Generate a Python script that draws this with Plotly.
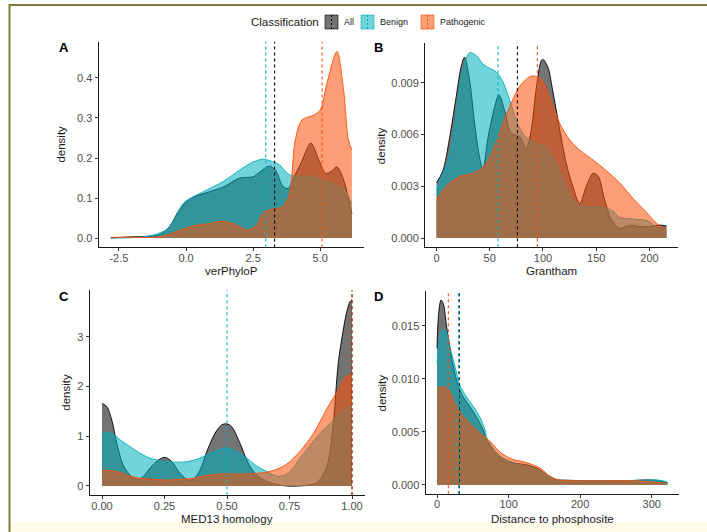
import plotly.graph_objects as go

W, H = 707, 532
FONT = "Liberation Sans, Arial, Helvetica, sans-serif"

CLASSES = ["All", "Benign", "Pathogenic"]
LINE_COLORS = {"All": "#000000", "Benign": "#00AFBB", "Pathogenic": "#FC4E07"}
FILL_COLORS = {"All": "rgba(0,0,0,0.55)", "Benign": "rgba(0,175,187,0.55)",
               "Pathogenic": "rgba(252,78,7,0.55)"}

# ---------------- Panel A : verPhyloP ----------------
a_all_x = [-2.8, -2.0, -1.5, -1.0, -0.6, -0.3, 0.0, 0.25, 0.75, 1.4, 2.0, 2.5, 2.75, 3.1, 3.35,
           3.6, 3.8, 4.0, 4.3, 4.65, 4.95, 5.2, 5.4, 5.62, 5.87, 6.05, 6.18]
a_all_y = [0.0, 0.003, 0.004, 0.008, 0.03, 0.065, 0.09, 0.102, 0.113, 0.128, 0.15, 0.153, 0.165,
           0.18, 0.168, 0.13, 0.124, 0.15, 0.19, 0.237, 0.195, 0.162, 0.166, 0.178, 0.145, 0.1, 0.06]
a_ben_x = [-2.8, -2.0, -1.5, -1.2, -0.9, -0.7, -0.45, -0.1, 0.27, 0.77, 1.38, 2.0, 2.5, 2.88,
           3.26, 3.5, 3.8, 4.0, 4.5, 5.0, 5.5, 5.9, 6.18]
a_ben_y = [0.0, 0.001, 0.004, 0.008, 0.015, 0.022, 0.045, 0.087, 0.103, 0.12, 0.141, 0.17, 0.19,
           0.197, 0.19, 0.182, 0.16, 0.155, 0.155, 0.148, 0.135, 0.12, 0.085]
a_pat_x = [-2.8, -2.0, -1.0, -0.5, 0.0, 0.4, 0.9, 1.3, 1.8, 2.3, 2.6, 2.9, 3.2, 3.6, 3.85, 4.07,
           4.32, 4.75, 5.0, 5.25, 5.62, 5.87, 6.05, 6.18]
a_pat_y = [0.002, 0.002, 0.003, 0.012, 0.025, 0.032, 0.036, 0.042, 0.035, 0.02, 0.03, 0.065, 0.072,
           0.078, 0.11, 0.245, 0.295, 0.307, 0.32, 0.387, 0.466, 0.37, 0.245, 0.22]
a_medians = {"All": 3.3, "Benign": 2.97, "Pathogenic": 5.07}

# ---------------- Panel B : Grantham ----------------
b_all_x = [0, 6, 12, 18.5, 23, 26.3, 31, 35.7, 40.4, 43.6, 48, 54.5, 58.6, 64, 70, 78, 84.3, 89,
           93.7, 98.4, 100, 104.7, 109, 115.7, 122, 128, 134.5, 140.7, 147, 151.7, 158, 164, 172,
           181.5, 191, 200, 209.7, 216]
b_all_y = [0.0032, 0.0039, 0.0057, 0.0082, 0.0099, 0.0105, 0.0092, 0.0067, 0.0047, 0.0040, 0.0057,
           0.0076, 0.0083, 0.0074, 0.0061, 0.0059, 0.0052, 0.0063, 0.0087, 0.0103, 0.01037, 0.0099,
           0.0086, 0.0063, 0.0043, 0.0030, 0.0020, 0.0030, 0.00375, 0.0036, 0.0022, 0.0011, 0.00056,
           0.00075, 0.00066, 0.00066, 0.00075, 0.0007]
b_ben_x = [0, 6, 12, 18.5, 24.8, 31, 37.3, 43.6, 49.8, 56, 62.4, 68.7, 75, 81, 87.5, 93.7, 103, 112,
           121, 130, 140, 155, 165, 172, 185, 198, 208, 216]
b_ben_y = [0.0028, 0.00375, 0.0047, 0.0072, 0.00975, 0.01075, 0.0106, 0.0101, 0.00985, 0.00965,
           0.00907, 0.0080, 0.00685, 0.00607, 0.00569, 0.0055, 0.0053, 0.0044, 0.0031, 0.0021,
           0.0018, 0.0018, 0.0016, 0.0012, 0.0011, 0.0010, 0.0006, 0.0005]
b_pat_x = [0, 9, 21.6, 34, 43.6, 53, 62.4, 70, 78, 87.5, 92, 98.4, 106, 115.7, 125, 134.5, 147,
           159.6, 172, 184.6, 197, 206.6, 216]
b_pat_y = [0.0022, 0.0030, 0.00356, 0.00375, 0.0041, 0.0051, 0.00665, 0.0078, 0.0088, 0.00936,
           0.0094, 0.0092, 0.0082, 0.00665, 0.0057, 0.0051, 0.00453, 0.0039, 0.0032, 0.0023,
           0.0015, 0.00085, 0.00046]
b_medians = {"All": 76, "Benign": 57.7, "Pathogenic": 94.7}

# ---------------- Panel C : MED13 homology ----------------
c_all_x = [0, 0.019, 0.039, 0.059, 0.085, 0.112, 0.139, 0.165, 0.192, 0.225, 0.252, 0.279, 0.312,
           0.345, 0.365, 0.392, 0.419, 0.452, 0.479, 0.499, 0.519, 0.552, 0.585, 0.619, 0.659,
           0.699, 0.739, 0.79, 0.83, 0.859, 0.899, 0.925, 0.945, 0.965, 0.979, 0.992, 1.0]
c_all_y = [1.66, 1.6, 1.33, 0.86, 0.42, 0.22, 0.13, 0.19, 0.36, 0.52, 0.577, 0.49, 0.255, 0.12,
           0.13, 0.32, 0.69, 1.06, 1.23, 1.25, 1.19, 0.86, 0.46, 0.22, 0.09, 0.03, 0.0, 0.0, 0.02,
           0.06, 0.39, 1.26, 2.47, 3.14, 3.5, 3.71, 3.75]
c_ben_x = [0, 0.039, 0.072, 0.112, 0.152, 0.192, 0.232, 0.285, 0.339, 0.392, 0.432, 0.472, 0.499,
           0.539, 0.579, 0.619, 0.659, 0.699, 0.73, 0.76, 0.79, 0.83, 0.86, 0.9, 0.93, 0.96, 1.0]
c_ben_y = [1.06, 1.06, 0.93, 0.79, 0.66, 0.56, 0.51, 0.48, 0.49, 0.56, 0.66, 0.74, 0.76, 0.69,
           0.56, 0.4, 0.29, 0.2, 0.22, 0.33, 0.55, 0.8, 0.99, 1.2, 1.35, 1.5, 1.62]
c_pat_x = [0, 0.059, 0.112, 0.152, 0.205, 0.259, 0.312, 0.365, 0.419, 0.472, 0.525, 0.579, 0.632,
           0.685, 0.739, 0.792, 0.845, 0.899, 0.95, 0.975, 1.0]
c_pat_y = [0.32, 0.29, 0.2, 0.154, 0.134, 0.12, 0.134, 0.154, 0.21, 0.24, 0.24, 0.24, 0.26, 0.31,
           0.44, 0.7, 1.05, 1.55, 1.98, 2.2, 2.25]
c_medians = {"All": 1.0, "Benign": 0.5, "Pathogenic": 1.0}

# ---------------- Panel D : Distance to phosphosite ----------------
d_all_x = [0, 2.3, 5.6, 8.8, 13.5, 18, 22.8, 29.8, 36.7, 46, 55.3, 64.6, 69, 88, 106.5, 125, 139,
           153, 167, 181, 218, 264.5, 288, 301.7, 313, 322]
d_all_y = [0.0129, 0.0162, 0.01745, 0.0171, 0.0149, 0.0130, 0.0112, 0.0093, 0.0083, 0.0074, 0.0064,
           0.0052, 0.00425, 0.0027, 0.0021, 0.0019, 0.0016, 0.0010, 0.0005, 0.00045, 0.0004,
           0.0004, 0.00047, 0.00047, 0.00038, 0.0002]
d_ben_x = [0, 3, 7, 12.5, 18, 25, 32, 41.4, 50.7, 60, 67, 70, 88, 106.5, 125, 139, 153, 167, 181,
           218, 264.5, 290, 305, 315, 322]
d_ben_y = [0.0115, 0.0135, 0.0146, 0.0145, 0.0130, 0.0112, 0.0094, 0.0083, 0.0074, 0.0064, 0.0052,
           0.0044, 0.0027, 0.0021, 0.0018, 0.0015, 0.0010, 0.0005, 0.00042, 0.00042, 0.00042,
           0.00045, 0.00047, 0.0004, 0.00025]
d_pat_x = [0, 8.8, 15.8, 22.8, 32, 41.4, 50.7, 60, 69, 78.6, 88, 97, 106.5, 120.4, 134, 146, 157.6,
           171.5, 195, 241, 278.5, 301.7, 320]
d_pat_y = [0.0091, 0.0093, 0.0090, 0.0080, 0.0069, 0.0061, 0.0055, 0.0049, 0.0044, 0.0038, 0.0031,
           0.0027, 0.0024, 0.0022, 0.0019, 0.0015, 0.0008, 0.00047, 0.0004, 0.0004, 0.0004,
           0.00028, 0.00016]
d_medians = {"All": 31, "Benign": 30, "Pathogenic": 15.8}

panels = [
    dict(letter="A", xtitle="verPhyloP",
         data={"All": (a_all_x, a_all_y), "Benign": (a_ben_x, a_ben_y), "Pathogenic": (a_pat_x, a_pat_y)},
         med=a_medians, xrange=[-3.26, 6.63], yrange=[-0.0234, 0.4904],
         xt=[-2.5, 0, 2.5, 5], xtt=["-2.5", "0.0", "2.5", "5.0"],
         yt=[0, 0.1, 0.2, 0.3, 0.4], ytt=["0.0", "0.1", "0.2", "0.3", "0.4"],
         box=(98.5, 364, 41.8, 247.4), letter_xy=(64, 47), xtitle_y=271, ytitle_x=61),
    dict(letter="B", xtitle="Grantham",
         data={"All": (b_all_x, b_all_y), "Benign": (b_ben_x, b_ben_y), "Pathogenic": (b_pat_x, b_pat_y)},
         med=b_medians, xrange=[-10.8, 226.8], yrange=[-0.00054, 0.01132],
         xt=[0, 50, 100, 150, 200], xtt=["0", "50", "100", "150", "200"],
         yt=[0, 0.003, 0.006, 0.009], ytt=["0.000", "0.003", "0.006", "0.009"],
         box=(425, 678, 43, 247.3), letter_xy=(378, 47), xtitle_y=271, ytitle_x=381),
    dict(letter="C", xtitle="MED13 homology",
         data={"All": (c_all_x, c_all_y), "Benign": (c_ben_x, c_ben_y), "Pathogenic": (c_pat_x, c_pat_y)},
         med=c_medians, xrange=[-0.05, 1.05], yrange=[-0.1875, 3.94],
         xt=[0, 0.25, 0.5, 0.75, 1.0], xtt=["0.00", "0.25", "0.50", "0.75", "1.00"],
         yt=[0, 1, 2, 3], ytt=["0", "1", "2", "3"],
         box=(89.5, 364.5, 290.2, 495.3), letter_xy=(64, 296), xtitle_y=519, ytitle_x=66),
    dict(letter="D", xtitle="Distance to phosphosite",
         data={"All": (d_all_x, d_all_y), "Benign": (d_ben_x, d_ben_y), "Pathogenic": (d_pat_x, d_pat_y)},
         med=d_medians, xrange=[-16.1, 338.1], yrange=[-0.00087, 0.01832],
         xt=[0, 100, 200, 300], xtt=["0", "100", "200", "300"],
         yt=[0, 0.005, 0.010, 0.015], ytt=["0.000", "0.005", "0.010", "0.015"],
         box=(425.5, 679, 290.8, 494.2), letter_xy=(378, 296), xtitle_y=519, ytitle_x=381),
]

fig = go.Figure()
shapes = []
annotations = []
layout_axes = {}
TITLE_FONT = dict(family=FONT, size=11.5, color="#1a1a1a")

for i, p in enumerate(panels):
    n = "" if i == 0 else str(i + 1)
    xa, ya = "x" + n, "y" + n
    for cls in CLASSES:
        xs, ys = p["data"][cls]
        fig.add_trace(go.Scatter(
            x=xs, y=ys, xaxis=xa, yaxis=ya, mode="lines", name=cls,
            line=dict(color=LINE_COLORS[cls], width=0.9, shape="spline", smoothing=0.9),
            fill="tozeroy", fillcolor=FILL_COLORS[cls], showlegend=False, hoverinfo="x+y+name"))
    for cls in CLASSES:
        shapes.append(dict(type="line", xref=xa, yref=ya + " domain", x0=p["med"][cls], x1=p["med"][cls],
                           y0=0, y1=1, line=dict(color=LINE_COLORS[cls], width=1.1, dash="3px,3px")))
    x0, x1, yt, yb = p["box"]
    axis_common = dict(showline=True, linecolor="#1a1a1a", linewidth=1, ticks="outside", ticklen=3,
                       tickcolor="#333333", tickwidth=1, showgrid=False, zeroline=False,
                       tickfont=dict(family=FONT, size=11, color="#4D4D4D"), automargin=False)
    layout_axes["xaxis" + n] = dict(axis_common, domain=[x0 / W, x1 / W], anchor=ya, range=p["xrange"],
                                    tickvals=p["xt"], ticktext=p["xtt"], ticklabelstandoff=-3)
    layout_axes["yaxis" + n] = dict(axis_common, domain=[1 - yb / H, 1 - yt / H], anchor=xa, range=p["yrange"],
                                    tickvals=p["yt"], ticktext=p["ytt"])
    # axis titles
    annotations.append(dict(text=p["xtitle"], xref="paper", yref="paper", x=(x0 + x1) / 2 / W,
                            y=1 - p["xtitle_y"] / H, xanchor="center", yanchor="middle",
                            showarrow=False, font=TITLE_FONT))
    annotations.append(dict(text="density", xref="paper", yref="paper", x=p["ytitle_x"] / W,
                            y=1 - (yt + yb) / 2 / H, xanchor="center", yanchor="middle", textangle=-90,
                            showarrow=False, font=TITLE_FONT))
    lx, ly = p["letter_xy"]
    annotations.append(dict(text="<b>%s</b>" % p["letter"], xref="paper", yref="paper", x=lx / W, y=1 - ly / H,
                            showarrow=False, font=dict(family=FONT, size=13, color="#000000"),
                            xanchor="center", yanchor="middle"))

# ---------------- legend (drawn as a guide) ----------------
LEG_Y = 22
leg_boxes = {"All": 325, "Benign": 361, "Pathogenic": 421}
BOX_W, BOX_H = 13, 14
annotations.append(dict(text="Classification", xref="paper", yref="paper", x=321 / W, y=1 - LEG_Y / H,
                        xanchor="right", yanchor="middle", showarrow=False,
                        font=dict(family=FONT, size=11.5, color="#1a1a1a")))
for cls in CLASSES:
    bx = leg_boxes[cls]
    shapes.append(dict(type="rect", xref="paper", yref="paper", x0=bx / W, x1=(bx + BOX_W) / W,
                       y0=1 - (LEG_Y + BOX_H / 2) / H, y1=1 - (LEG_Y - BOX_H / 2) / H,
                       fillcolor=FILL_COLORS[cls], line=dict(color=LINE_COLORS[cls], width=0.6)))
    shapes.append(dict(type="line", xref="paper", yref="paper", x0=(bx + BOX_W / 2) / W, x1=(bx + BOX_W / 2) / W,
                       y0=1 - (LEG_Y + BOX_H / 2) / H, y1=1 - (LEG_Y - BOX_H / 2) / H,
                       line=dict(color=LINE_COLORS[cls], width=1, dash="2px,2px")))
    annotations.append(dict(text=cls, xref="paper", yref="paper", x=(bx + BOX_W + 4) / W, y=1 - LEG_Y / H,
                            xanchor="left", yanchor="middle", showarrow=False,
                            font=dict(family=FONT, size=9, color="#1a1a1a")))

# ---------------- frame ----------------
shapes.append(dict(type="rect", xref="paper", yref="paper", x0=10.5 / W, x1=1.0, y0=0, y1=10 / H,
                   fillcolor="#fffbea", line=dict(width=0), layer="below"))
shapes.append(dict(type="rect", xref="paper", yref="paper", x0=9.5 / W, x1=1.05, y0=-0.05, y1=1 - 5 / H,
                   fillcolor="rgba(0,0,0,0)", line=dict(color="#86783a", width=2)))

fig.update_layout(
    width=W, height=H, margin=dict(l=0, r=0, t=0, b=0),
    paper_bgcolor="white", plot_bgcolor="rgba(0,0,0,0)",
    font=dict(family=FONT), showlegend=False,
    shapes=shapes, annotations=annotations, **layout_axes)

fig.write_html("out.html", config={"displayModeBar": False},
               post_script="document.body.style.margin='0';document.body.style.padding='0';"
                           "document.body.style.overflow='hidden';")
